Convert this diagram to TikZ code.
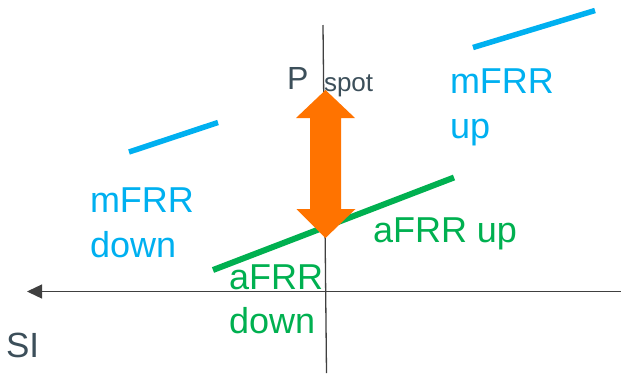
\documentclass[tikz,border=0pt]{standalone}
\usepackage{fontspec}
\setmainfont{Liberation Sans}
\usetikzlibrary{arrows.meta}
\definecolor{axisgray}{HTML}{404040}
\definecolor{labelgray}{HTML}{3C4F5A}
\definecolor{mfrrblue}{HTML}{00B0F0}
\definecolor{afrrgreen}{HTML}{00B050}
\definecolor{spotorange}{HTML}{FF7300}
\tikzset{
  axis/.style={draw=axisgray, line width=1.3pt},
  bid/.style={line width=#1},
  lbl/.style={anchor=base west, inner sep=0pt, outer sep=0pt},
  mtxt/.style={lbl, text=mfrrblue, font=\fontsize{36}{42}\selectfont},
  atxt/.style={lbl, text=afrrgreen, font=\fontsize{36}{42}\selectfont},
}
\begin{document}
\begin{tikzpicture}[x=1pt, y=-1pt]
  \useasboundingbox (0,0) rectangle (621,373);

  % axes
  \coordinate (vtop) at (323,25);
  \coordinate (vbot) at (326.5,373);
  \coordinate (hright) at (621,291.5);
  \coordinate (hleft) at (27,291.5);
  \draw[axis] (vtop) -- (vbot);
  \draw[axis, -{Triangle[length=15pt, width=14pt]}] (hright) -- (hleft);

  % mFRR bid curves
  \coordinate (md1) at (129,152);
  \coordinate (md2) at (218,122.5);
  \coordinate (mu1) at (473,47.5);
  \coordinate (mu2) at (595,10.5);
  \draw[mfrrblue, bid=5.5pt] (md1) -- (md2);
  \draw[mfrrblue, bid=5.5pt] (mu1) -- (mu2);

  % aFRR bid curve
  \coordinate (a1) at (213,270);
  \coordinate (a2) at (454,177.5);
  \draw[afrrgreen, bid=6pt] (a1) -- (a2);

  % spot price double arrow
  \fill[spotorange]
    (325.5,90) -- (355,118) -- (341,118) -- (341,209) -- (355.5,209)
    -- (325.5,238) -- (296.5,209) -- (310,209) -- (310,118) -- (296,118) -- cycle;

  % labels
  \node[lbl, text=labelgray, font=\fontsize{32}{38}\selectfont] (pP) at (287,89) {P};
  \node[lbl, text=labelgray, font=\fontsize{26}{31}\selectfont] (pspot) at (324,91) {spot};
  \node[lbl, text=labelgray, font=\fontsize{35}{42}\selectfont] (si) at (6,357) {SI};

  \node[mtxt] (mdown1) at (90,212) {mFRR};
  \node[mtxt] (mdown2) at (90,257) {down};
  \node[mtxt] (mup1) at (450,93) {mFRR};
  \node[mtxt] (mup2) at (450,138) {up};

  \node[atxt] (aup) at (373,242) {aFRR up};
  \node[atxt] (adown1) at (229,289) {aFRR};
  \node[atxt] (adown2) at (229,333) {down};
\end{tikzpicture}
\end{document}
